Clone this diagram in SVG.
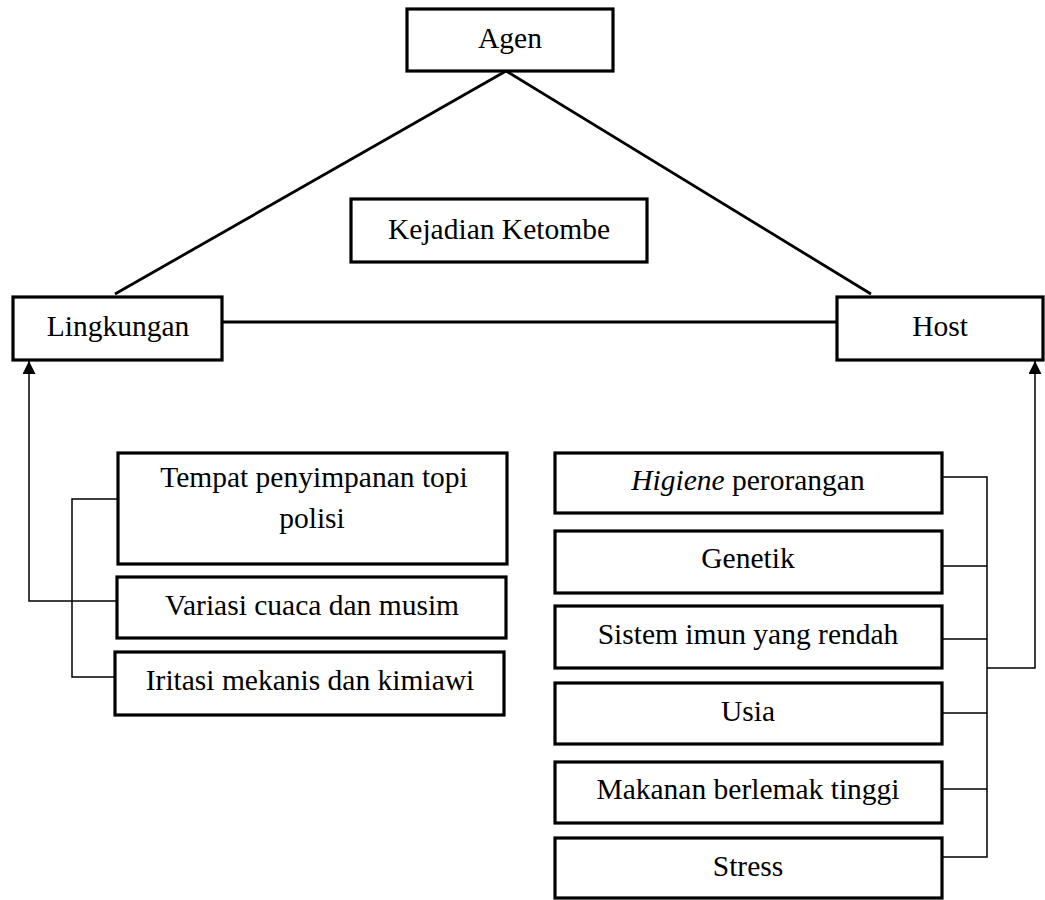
<svg xmlns="http://www.w3.org/2000/svg" width="1045" height="900" viewBox="0 0 1045 900">
<defs>
<style>
.box{fill:#fff;stroke:#000;stroke-width:3.2}
.t{font-family:"Liberation Serif","Times New Roman",serif;font-size:29.5px;fill:#000;text-anchor:middle}
.thick{stroke:#000;stroke-width:2.8;fill:none}
.thin{stroke:#000;stroke-width:1.5;fill:none}
</style>
<marker id="arr" viewBox="0 0 10 10" refX="10" refY="5" markerWidth="13" markerHeight="13" markerUnits="userSpaceOnUse" orient="auto">
<path d="M0,0 L10,5 L0,10 z" fill="#000"/>
</marker>
</defs>
<rect width="1045" height="900" fill="#fff"/>
<g id="connectors">
<line class="thick" x1="506" y1="71" x2="115" y2="294"/>
<line class="thick" x1="506" y1="71" x2="871" y2="294"/>
<line class="thick" x1="222" y1="322" x2="837" y2="322"/>
<polyline class="thin" points="118,601 29,601 29,361" marker-end="url(#arr)"/>
<polyline class="thin" points="118,499 72,499 72,677 116,677"/>
<polyline class="thin" points="942,477 987,477 987,857 942,857"/>
<line class="thin" x1="942" y1="566" x2="987" y2="566"/>
<line class="thin" x1="942" y1="639" x2="987" y2="639"/>
<line class="thin" x1="942" y1="713" x2="987" y2="713"/>
<line class="thin" x1="942" y1="789" x2="987" y2="789"/>
<polyline class="thin" points="987,668 1035,668 1035,361" marker-end="url(#arr)"/>
</g>
<g id="agen"><rect class="box" x="407" y="9" width="206" height="62"/><text class="t" x="510" y="48">Agen</text></g>
<g id="kejadian"><rect class="box" x="351" y="199" width="296" height="63"/><text class="t" x="499" y="239">Kejadian Ketombe</text></g>
<g id="lingkungan"><rect class="box" x="13" y="297" width="209" height="63"/><text class="t" x="118" y="336">Lingkungan</text></g>
<g id="host"><rect class="box" x="837" y="297" width="206" height="63"/><text class="t" x="940" y="336">Host</text></g>
<g id="tempat"><rect class="box" x="118" y="453" width="389" height="111"/><text class="t" x="314" y="487">Tempat penyimpanan topi</text><text class="t" x="312" y="528">polisi</text></g>
<g id="variasi"><rect class="box" x="117" y="577" width="389" height="61"/><text class="t" x="312" y="615">Variasi cuaca dan musim</text></g>
<g id="iritasi"><rect class="box" x="115" y="652" width="389" height="63"/><text class="t" x="310" y="690">Iritasi mekanis dan kimiawi</text></g>
<g id="higiene"><rect class="box" x="555" y="453" width="387" height="60"/><text class="t" x="748" y="490"><tspan font-style="italic">Higiene</tspan> perorangan</text></g>
<g id="genetik"><rect class="box" x="555" y="531" width="387" height="62"/><text class="t" x="748" y="568">Genetik</text></g>
<g id="sistem"><rect class="box" x="555" y="606" width="387" height="62"/><text class="t" x="748" y="644">Sistem imun yang rendah</text></g>
<g id="usia"><rect class="box" x="555" y="683" width="387" height="61"/><text class="t" x="748" y="721">Usia</text></g>
<g id="makanan"><rect class="box" x="555" y="762" width="387" height="61"/><text class="t" x="748" y="799">Makanan berlemak tinggi</text></g>
<g id="stress"><rect class="box" x="555" y="838" width="387" height="60"/><text class="t" x="748" y="876">Stress</text></g>
</svg>
